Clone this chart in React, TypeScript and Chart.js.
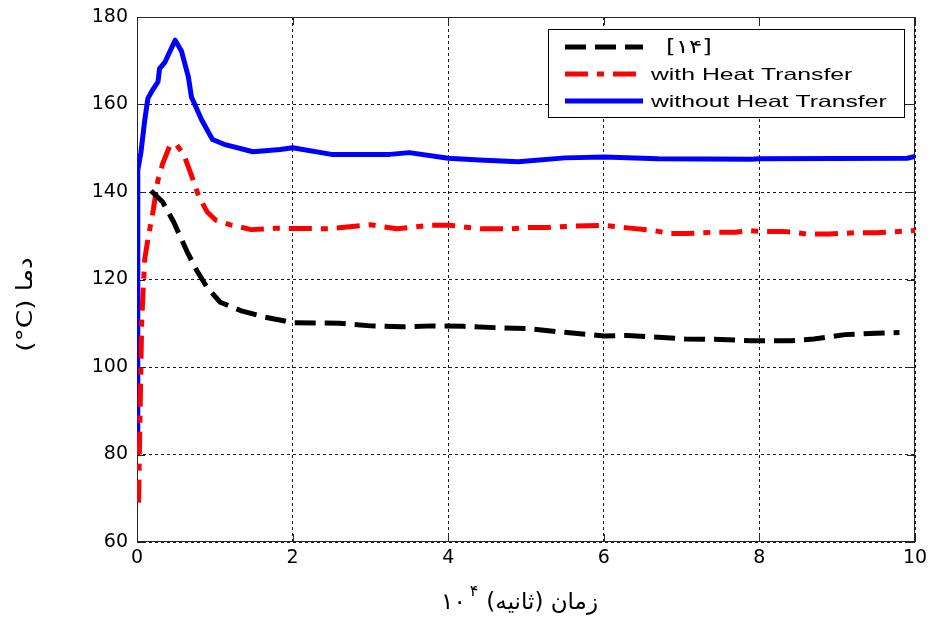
import React, { useEffect, useRef } from "react";
import { Chart, registerables } from "chart.js";

Chart.register(...registerables);

// Series [۱۴]
const refTime = [0.18, 0.33, 0.47, 0.64, 0.77, 0.9, 1.07, 1.33, 1.64, 1.9, 2.0, 2.6, 3.0, 3.4, 3.8, 4.2, 4.6, 5.0, 5.4, 6.0, 6.3, 6.7, 7.05, 7.5, 7.9, 8.4, 8.7, 9.1, 9.5, 9.8];
const refTemp = [140.3, 137.7, 133.2, 126.5, 122, 118.2, 114.8, 112.9, 111.4, 110.5, 110.1, 110, 109.4, 109.2, 109.4, 109.3, 109.0, 108.8, 108.1, 107.1, 107.2, 106.8, 106.4, 106.3, 106.0, 106.0, 106.4, 107.4, 107.7, 107.9];

// Series "with Heat Transfer"
const withTime = [0.02, 0.04, 0.06, 0.08, 0.1, 0.14, 0.21, 0.27, 0.33, 0.42, 0.5, 0.6, 0.7, 0.79, 0.9, 1.01, 1.2, 1.47, 1.77, 2.48, 2.87, 3.0, 3.34, 3.77, 4.03, 4.2, 4.41, 4.8, 5.06, 5.27, 5.6, 6.0, 6.3, 6.64, 6.85, 7.07, 7.4, 7.7, 7.84, 8.0, 8.3, 8.44, 8.6, 8.9, 9.25, 9.5, 9.7, 10];
const withTemp = [69, 90, 110, 118, 124.7, 129.2, 136, 142.8, 146.5, 150.5, 151, 148.6, 143.8, 139.2, 135.5, 133.6, 132.5, 131.4, 131.7, 131.6, 132.3, 132.5, 131.6, 132.4, 132.4, 132, 131.6, 131.6, 131.9, 131.9, 132.2, 132.4, 131.8, 131.2, 130.5, 130.5, 130.8, 130.8, 131.2, 131.0, 131.0, 130.8, 130.4, 130.4, 130.7, 130.7, 130.9, 131.2];

// Series "without Heat Transfer"
const withoutTime = [0, 0.01, 0.05, 0.1, 0.14, 0.2, 0.27, 0.29, 0.36, 0.49, 0.57, 0.66, 0.7, 0.83, 0.97, 1.12, 1.49, 1.84, 2.0, 2.5, 3.25, 3.5, 4.0, 4.4, 4.9, 5.5, 6.0, 6.7, 7.9, 8.0, 9.9, 10];
const withoutTemp = [82, 145, 149, 156.5, 161.4, 163.3, 165.2, 168.2, 169.7, 174.7, 172.3, 166.3, 161.7, 156.5, 152, 150.9, 149.2, 149.7, 150.1, 148.6, 148.6, 149.0, 147.7, 147.3, 146.9, 147.8, 148.0, 147.6, 147.5, 147.6, 147.7, 148.1];

const seriesNames = ["[۱۴]", "with Heat Transfer", "without Heat Transfer"];
const xRange = [0, 10];
const xStep = 2;
const yRange = [60, 180];
const yStep = 20;
const xTitleMain = "زمان (ثانیه)";
const xTitleBase = "۱۰";
const xTitleExp = "۴";
const yTitle = "(°C) دما";

const toPoints = (xs: number[], ys: number[]) => xs.map((x, i) => ({ x, y: ys[i] }));

// Box around the axes with inward tick marks on all four sides
const framePlugin = {
  id: "frame",
  beforeDatasetsDraw(chart: any) {
    const { ctx, chartArea: a, scales } = chart;
    ctx.save();
    ctx.strokeStyle = "#262626";
    ctx.lineWidth = 1;
    ctx.setLineDash([]);
    ctx.strokeRect(a.left + 0.5, a.top + 0.5, a.right - a.left - 1, a.bottom - a.top - 1);
    const len = 8;
    ctx.beginPath();
    scales.x.ticks.forEach((t: any) => {
      const px = Math.round(scales.x.getPixelForValue(t.value)) + 0.5;
      ctx.moveTo(px, a.bottom);
      ctx.lineTo(px, a.bottom - len);
      ctx.moveTo(px, a.top);
      ctx.lineTo(px, a.top + len);
    });
    scales.y.ticks.forEach((t: any) => {
      const py = Math.round(scales.y.getPixelForValue(t.value)) + 0.5;
      ctx.moveTo(a.left, py);
      ctx.lineTo(a.left + len, py);
      ctx.moveTo(a.right, py);
      ctx.lineTo(a.right - len, py);
    });
    ctx.stroke();
    ctx.restore();
  },
};

// Legend box in the upper right corner, line samples use each dataset's own style
const legendPlugin = {
  id: "boxLegend",
  afterDraw(chart: any) {
    const { ctx, chartArea: a } = chart;
    const left = a.right - 367;
    const top = a.top + 12;
    const w = 356;
    const h = 88;
    ctx.save();
    ctx.fillStyle = "#fff";
    ctx.fillRect(left, top, w, h);
    ctx.strokeStyle = "#000";
    ctx.lineWidth = 1;
    ctx.setLineDash([]);
    ctx.strokeRect(left + 0.5, top + 0.5, w, h);
    chart.data.datasets.forEach((ds: any, i: number) => {
      const y = top + 18 + i * 27;
      ctx.save();
      ctx.strokeStyle = ds.borderColor;
      ctx.lineWidth = 5;
      ctx.lineCap = "butt";
      ctx.setLineDash(ds.borderDash || []);
      ctx.beginPath();
      ctx.moveTo(left + 17, y);
      ctx.lineTo(left + 95, y);
      ctx.stroke();
      ctx.restore();
      ctx.save();
      const tx = i === 0 ? left + 118 : left + 103;
      ctx.translate(tx, y + 1);
      ctx.scale(i === 0 ? 1.3 : 1.5, 1);
      ctx.fillStyle = "#000";
      ctx.font = i === 0 ? '19px "DejaVu Sans", sans-serif' : '16.5px "Liberation Sans", Arial, sans-serif';
      ctx.textBaseline = "middle";
      ctx.textAlign = "left";
      ctx.fillText(ds.label, 0, 0);
      ctx.restore();
    });
    ctx.restore();
  },
};

// Axis titles (Persian text with a superscript exponent)
const titlePlugin = {
  id: "axisTitles",
  afterDraw(chart: any) {
    const { ctx, chartArea: a } = chart;
    ctx.save();
    ctx.fillStyle = "#000";
    // y title, rotated
    ctx.save();
    ctx.translate(26, (a.top + a.bottom) / 2 + 25);
    ctx.rotate(-Math.PI / 2);
    ctx.scale(1.2, 1);
    ctx.font = '22px "DejaVu Sans", sans-serif';
    ctx.textAlign = "center";
    ctx.textBaseline = "middle";
    ctx.fillText(yTitle, 0, 0);
    ctx.restore();

    // x title
    ctx.font = '23px "DejaVu Sans", sans-serif';
    ctx.textBaseline = "alphabetic";
    const baseY = 609;
    const rightX = (a.left + a.right) / 2 + 72;
    ctx.direction = "rtl";
    ctx.textAlign = "right";
    ctx.fillText(xTitleMain, rightX, baseY);
    const wMain = ctx.measureText(xTitleMain).width;
    ctx.direction = "ltr";
    const supRight = rightX - wMain - 8;
    ctx.font = '16px "DejaVu Sans", sans-serif';
    ctx.textAlign = "right";
    ctx.fillText(xTitleExp, supRight, baseY - 13);
    const wExp = ctx.measureText(xTitleExp).width;
    ctx.font = '23px "DejaVu Sans", sans-serif';
    ctx.fillText(xTitleBase, supRight - wExp - 4, baseY);
    ctx.restore();
  },
};

export default function App() {
  const canvasRef = useRef<HTMLCanvasElement>(null);

  useEffect(() => {
    const canvas = canvasRef.current;
    if (!canvas) return;
    const tickFont = { family: '"DejaVu Sans", sans-serif', size: 19 };
    const chart = new Chart(canvas, {
      type: "line",
      data: {
        datasets: [
          {
            label: seriesNames[0],
            data: toPoints(refTime, refTemp),
            borderColor: "#000000",
            borderWidth: 5,
            borderDash: [21, 9],
            borderCapStyle: "butt",
            borderJoinStyle: "round",
            pointRadius: 0,
            fill: false,
            tension: 0,
          },
          {
            label: seriesNames[1],
            data: toPoints(withTime, withTemp),
            borderColor: "#ff0000",
            borderWidth: 5,
            borderDash: [23, 9, 7, 9],
            borderCapStyle: "butt",
            borderJoinStyle: "round",
            pointRadius: 0,
            fill: false,
            tension: 0,
          },
          {
            label: seriesNames[2],
            data: toPoints(withoutTime, withoutTemp),
            borderColor: "#0000ff",
            borderWidth: 5,
            borderCapStyle: "butt",
            borderJoinStyle: "round",
            pointRadius: 0,
            fill: false,
            tension: 0,
          },
        ],
      },
      options: {
        animation: false,
        responsive: false,
        devicePixelRatio: 1,
        parsing: false,
        layout: { padding: { top: 17, right: 17, left: 0, bottom: 0 } },
        plugins: {
          legend: { display: false },
          tooltip: { enabled: false },
          title: { display: false },
        },
        scales: {
          x: {
            type: "linear",
            min: xRange[0],
            max: xRange[1],
            ticks: { stepSize: xStep, color: "#000", font: tickFont, padding: 5, maxRotation: 0, autoSkip: false },
            grid: { color: "#1a1a1a", lineWidth: 1, drawTicks: false },
            border: { display: false, dash: [3, 3] },
            afterFit: (s: any) => {
              s.height = 75;
              s.paddingLeft = 0;
              s.paddingRight = 0;
            },
          },
          y: {
            type: "linear",
            min: yRange[0],
            max: yRange[1],
            ticks: { stepSize: yStep, color: "#000", font: tickFont, padding: 9, autoSkip: false },
            grid: { color: "#1a1a1a", lineWidth: 1, drawTicks: false },
            border: { display: false, dash: [3, 3] },
            afterFit: (s: any) => {
              s.width = 137;
              s.paddingTop = 0;
              s.paddingBottom = 0;
            },
          },
        },
      } as any,
      plugins: [framePlugin, legendPlugin, titlePlugin],
    });
    return () => chart.destroy();
  }, []);

  return (
    <div style={{ position: "absolute", left: 0, top: 0, width: 932, height: 617, background: "#fff" }}>
      <canvas ref={canvasRef} width={932} height={617} style={{ display: "block", width: 932, height: 617 }} />
    </div>
  );
}
